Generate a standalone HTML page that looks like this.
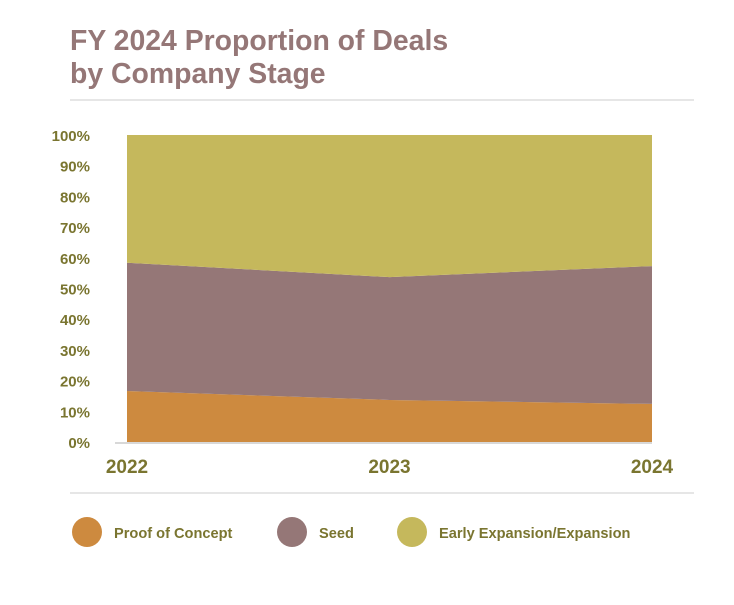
<!DOCTYPE html>
<html><head><meta charset="utf-8"><style>
body{margin:0;background:#fff;width:734px;height:600px;overflow:hidden;font-family:"Liberation Sans",sans-serif}
</style></head><body>
<svg width="734" height="600">
<text x="70" y="50" font-size="28.4" font-weight="bold" fill="#957777">FY 2024 Proportion of Deals</text>
<text x="70" y="83" font-size="28.4" font-weight="bold" fill="#957777">by Company Stage</text>
<line x1="70" y1="100" x2="694" y2="100" stroke="#ddd" stroke-width="1.5"/>
<g id="plot"></g>
<line x1="70" y1="493" x2="694" y2="493" stroke="#ddd" stroke-width="1.5"/>
<g>
<g><circle cx="87" cy="532" r="15" fill="#cd8a3f"/><text x="114" y="538" font-size="14.6" font-weight="bold" fill="#7a7530">Proof of Concept</text></g>
<g><circle cx="292" cy="532" r="15" fill="#957777"/><text x="319" y="538" font-size="14.6" font-weight="bold" fill="#7a7530">Seed</text></g>
<g><circle cx="412" cy="532" r="15" fill="#c5b85c"/><text x="439" y="538" font-size="14.6" font-weight="bold" fill="#7a7530">Early Expansion/Expansion</text></g>
</g>
</svg>
<script>
const categories=["2022","2023","2024"];
const proofOfConcept=[16.6,13.7,12.4];
const seed=[41.8,40.0,44.9];
const earlyExpansion=[41.6,46.3,42.7];
const yTicks=[0,10,20,30,40,50,60,70,80,90,100];
const NS="http://www.w3.org/2000/svg";
const g=document.getElementById('plot');
const x0=127,x1=652,yb=442,yt=135;
const xs=i=>x0+(x1-x0)*i/(categories.length-1);
const ys=v=>yb-(yb-yt)*v/100;
function mk(t,a){const e=document.createElementNS(NS,t);for(const k in a)e.setAttribute(k,a[k]);g.appendChild(e);return e;}
const series=[["proof-of-concept",proofOfConcept,"#cd8a3f"],["seed",seed,"#957777"],["early-expansion",earlyExpansion,"#c5b85c"]];
let base=categories.map(()=>0);
series.forEach(([n,vals,c])=>{
 const top=base.map((b,i)=>b+vals[i]);
 let pts=top.map((v,i)=>xs(i)+","+ys(v));
 for(let i=categories.length-1;i>=0;i--)pts.push(xs(i)+","+ys(base[i]));
 const p=mk('polygon',{points:pts.join(' '),fill:c});
 
 
 base=top;
});
const bl=mk('line',{x1:x0-12,y1:yb+1,x2:x1,y2:yb+1,stroke:'#ccc','stroke-width':1.5});


yTicks.forEach(v=>{
 const t=mk('text',{x:90,y:ys(v)+6,'text-anchor':'end','font-size':15,'font-weight':'bold',fill:'#7a7530'});
 t.textContent=v+'%';
 
 
});
categories.forEach((c,i)=>{
 const t=mk('text',{x:xs(i),y:473,'text-anchor':'middle','font-size':19,'font-weight':'bold',fill:'#7a7530'});
 t.textContent=c;
 
 
});
</script>
</body></html>
